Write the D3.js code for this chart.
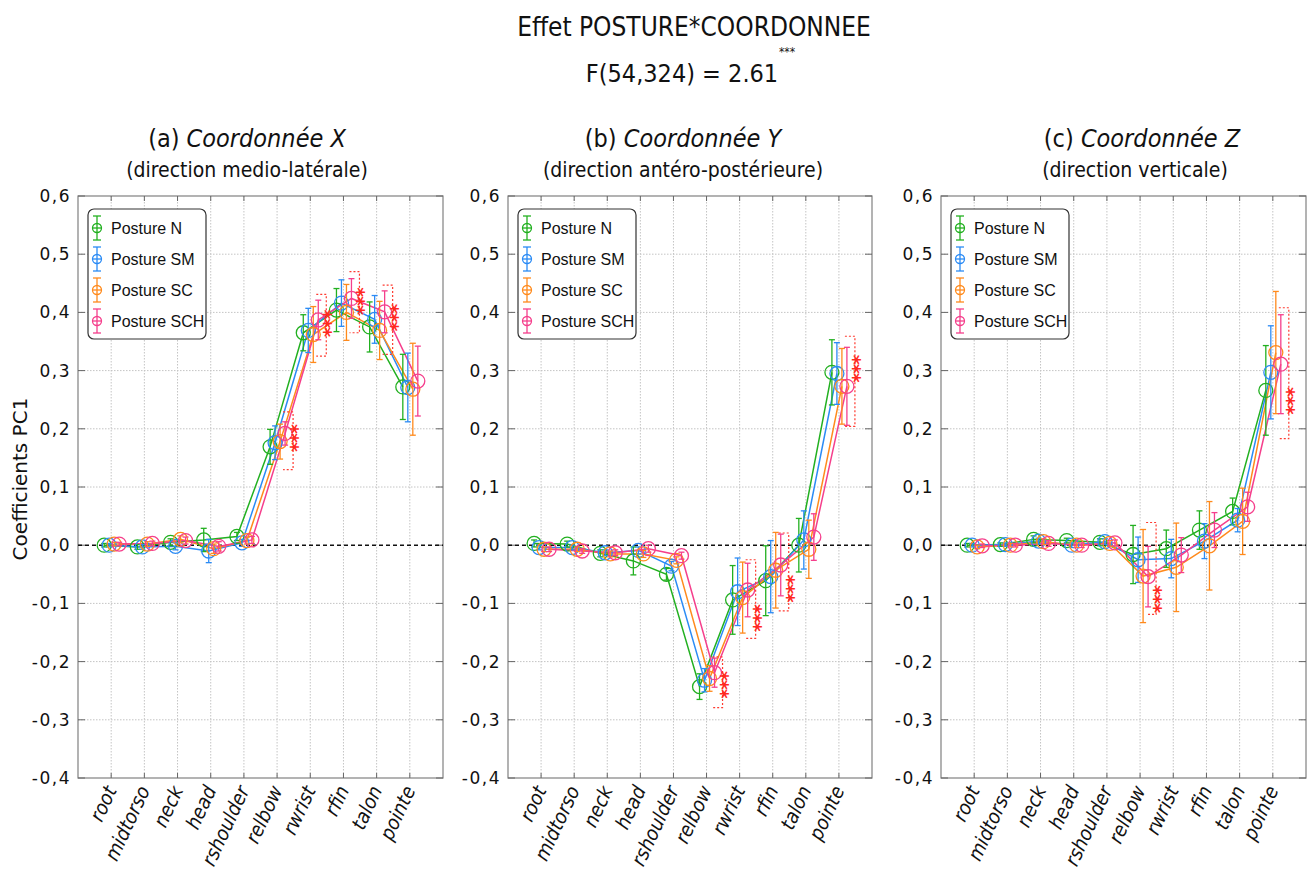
<!DOCTYPE html>
<html><head><meta charset="utf-8">
<script src="https://cdn.jsdelivr.net/npm/d3@7"></script>
<style>
body{margin:0;background:#fff;}
svg{display:block;}
</style></head>
<body>
<svg id="chart" width="1309" height="886"></svg>
<script>
// ---------- DATA ----------
const categories = ["root","midtorso","neck","head","rshoulder","relbow","rwrist","rfin","talon","pointe"];
const seriesNames = ["Posture N","Posture SM","Posture SC","Posture SCH"];
const seriesColors = ["#22b020","#2b8bf5","#ff8a1c","#f53f8c"];
const yTicks = [-0.4,-0.3,-0.2,-0.1,0,0.1,0.2,0.3,0.4,0.5,0.6];

// Panel (a) X
const xN   = [0.000,-0.003,0.005,0.009,0.015,0.169,0.365,0.404,0.375,0.272];
const xSM  = [0.000,-0.003,-0.002,-0.010,0.004,0.176,0.369,0.416,0.388,0.271];
const xSC  = [0.002,0.002,0.010,-0.006,0.008,0.178,0.362,0.400,0.369,0.268];
const xSCH = [0.002,0.003,0.008,-0.002,0.009,0.192,0.387,0.424,0.401,0.282];
const xNerr   = [0.003,0.004,0.006,0.020,0.007,0.030,0.031,0.037,0.043,0.056];
const xSMerr  = [0.003,0.004,0.006,0.020,0.006,0.029,0.038,0.040,0.041,0.059];
const xSCerr  = [0.003,0.004,0.006,0.008,0.006,0.030,0.048,0.048,0.050,0.079];
const xSCHerr = [0.003,0.004,0.006,0.008,0.006,0.020,0.034,0.034,0.036,0.060];

// Panel (b) Y
const yN   = [0.003,0.002,-0.014,-0.027,-0.050,-0.243,-0.094,-0.061,0.000,0.297];
const ySM  = [-0.004,-0.004,-0.013,-0.009,-0.036,-0.232,-0.080,-0.054,0.009,0.295];
const ySC  = [-0.007,-0.007,-0.015,-0.015,-0.026,-0.229,-0.090,-0.043,-0.007,0.273];
const ySCH = [-0.007,-0.010,-0.013,-0.006,-0.018,-0.219,-0.077,-0.034,0.014,0.273];
const yNerr   = [0.006,0.005,0.006,0.024,0.010,0.022,0.059,0.060,0.046,0.056];
const ySMerr  = [0.004,0.004,0.005,0.006,0.008,0.020,0.058,0.062,0.050,0.053];
const ySCerr  = [0.004,0.004,0.005,0.006,0.006,0.022,0.061,0.065,0.050,0.065];
const ySCHerr = [0.004,0.004,0.005,0.006,0.006,0.025,0.046,0.053,0.040,0.067];

// Panel (c) Z
const zN   = [0.000,0.001,0.010,0.008,0.005,-0.016,-0.006,0.026,0.058,0.266];
const zSM  = [0.000,0.001,0.007,0.000,0.006,-0.025,-0.023,0.007,0.043,0.297];
const zSC  = [-0.003,0.000,0.006,0.000,0.003,-0.053,-0.038,-0.001,0.041,0.331];
const zSCH = [-0.001,0.000,0.003,0.000,0.004,-0.054,-0.017,0.026,0.066,0.311];
const zNerr   = [0.003,0.003,0.006,0.004,0.006,0.050,0.032,0.033,0.023,0.077];
const zSMerr  = [0.003,0.003,0.005,0.004,0.005,0.039,0.033,0.030,0.020,0.080];
const zSCerr  = [0.003,0.003,0.005,0.004,0.005,0.080,0.076,0.076,0.057,0.105];
const zSCHerr = [0.003,0.003,0.005,0.004,0.005,0.052,0.030,0.030,0.025,0.085];

// Significance brackets: category, top, bottom, star centre
const sigX = [["relbow",0.229,0.130,0.185],["rwrist",0.431,0.325,0.382],["rfin",0.470,0.365,0.420],["talon",0.447,0.328,0.392]];
const sigY = [["relbow",-0.192,-0.279,-0.239],["rwrist",-0.025,-0.160,-0.124],["rfin",0.021,-0.113,-0.074],["pointe",0.359,0.204,0.304]];
const sigZ = [["relbow",0.039,-0.119,-0.092],["pointe",0.408,0.183,0.249]];

const panelTitles = [["(a)","Coordonnée X","(direction medio-latérale)"],
                     ["(b)","Coordonnée Y","(direction antéro-postérieure)"],
                     ["(c)","Coordonnée Z","(direction verticale)"]];

// ---------- LAYOUT ----------
const COND = "'DejaVu Sans Condensed','DejaVu Sans',sans-serif";
const svg = d3.select("#chart");
const yTop = 196, yBot = 778;
const panels = [
  {left:78, right:443, means:[xN,xSM,xSC,xSCH], errs:[xNerr,xSMerr,xSCerr,xSCHerr], sig:sigX, titleX:247, subX:247},
  {left:508, right:872, means:[yN,ySM,ySC,ySCH], errs:[yNerr,ySMerr,ySCerr,ySCHerr], sig:sigY, titleX:683, subX:683},
  {left:941, right:1306, means:[zN,zSM,zSC,zSCH], errs:[zNerr,zSMerr,zSCerr,zSCHerr], sig:sigZ, titleX:1142, subX:1135}
];
const y = d3.scaleLinear().domain([-0.4,0.6]).range([yBot, yTop]);
const fmt = v => d3.format(".1f")(v).replace("−","-").replace(".",",");
const dodge = [-7,-2,3,8];

// Main title
svg.append("text").attr("x",694).attr("y",36).attr("text-anchor","middle")
  .style("font-family",COND).style("font-stretch","condensed").style("font-size","26px").attr("fill","#111")
  .text("Effet POSTURE*COORDONNEE");
svg.append("text").attr("x",682).attr("y",82).attr("text-anchor","middle")
  .style("font-family",COND).style("font-stretch","condensed").style("font-size","25px").attr("fill","#111")
  .text("F(54,324) = 2.61");
svg.append("text").attr("x",787).attr("y",56).attr("text-anchor","middle")
  .style("font-family",COND).style("font-size","12px").attr("fill","#111").text("***");

// Y axis label
svg.append("text").attr("transform","translate(27,479) rotate(-90)").attr("text-anchor","middle")
  .style("font-family","'DejaVu Sans',sans-serif").style("font-size","20px").attr("fill","#111")
  .text("Coefficients PC1");

panels.forEach((p,pi) => {
  const g = svg.append("g");
  const x = d3.scaleLinear().domain([0, categories.length+1]).range([p.left, p.right]);
  const cx = i => x(i+1);

  // titles
  const t = g.append("text").attr("x",p.titleX).attr("y",147).attr("text-anchor","middle")
    .style("font-family",COND).style("font-stretch","condensed").style("font-size","25px").attr("fill","#111");
  t.append("tspan").text(panelTitles[pi][0]+" ");
  t.append("tspan").style("font-style","italic").text(panelTitles[pi][1]);
  g.append("text").attr("x",p.subX).attr("y",177).attr("text-anchor","middle")
    .style("font-family",COND).style("font-stretch","condensed").style("font-size","21px").attr("fill","#111")
    .text(panelTitles[pi][2]);

  // grid
  g.selectAll(".vg").data(categories).enter().append("line")
    .attr("x1",(d,i)=>cx(i)).attr("x2",(d,i)=>cx(i)).attr("y1",yTop).attr("y2",yBot)
    .attr("stroke","#c4c4c4").attr("stroke-width",1).attr("stroke-dasharray","1.5,1.5");
  g.selectAll(".hg").data(yTicks.filter(v=>v!==0 && v!==0.6 && v!==-0.4)).enter().append("line")
    .attr("x1",p.left).attr("x2",p.right).attr("y1",d=>y(d)).attr("y2",d=>y(d))
    .attr("stroke","#c4c4c4").attr("stroke-width",1).attr("stroke-dasharray","1.5,1.5");

  // frame
  g.append("rect").attr("x",p.left).attr("y",yTop).attr("width",p.right-p.left).attr("height",yBot-yTop)
    .attr("fill","none").attr("stroke","#808080").attr("stroke-width",1.2);
  yTicks.forEach(v=>{
    g.append("line").attr("x1",p.left).attr("x2",p.left+7).attr("y1",y(v)).attr("y2",y(v)).attr("stroke","#666");
    g.append("line").attr("x1",p.right-7).attr("x2",p.right).attr("y1",y(v)).attr("y2",y(v)).attr("stroke","#666");
  });
  categories.forEach((c,i)=>{
    g.append("line").attr("x1",cx(i)).attr("x2",cx(i)).attr("y1",yBot).attr("y2",yBot-5).attr("stroke","#666");
    g.append("line").attr("x1",cx(i)).attr("x2",cx(i)).attr("y1",yTop).attr("y2",yTop+5).attr("stroke","#666");
  });
  g.selectAll(".yl").data(yTicks).enter().append("text")
    .attr("x",p.left-7).attr("y",d=>y(d)+6).attr("text-anchor","end")
    .style("font-family","'DejaVu Sans',sans-serif").style("font-size","17px").style("letter-spacing","1.5px")
    .attr("fill","#111").text(fmt);
  g.selectAll(".xl").data(categories).enter().append("text")
    .attr("transform",(d,i)=>`translate(${cx(i)+6},${yBot+12}) rotate(-65)`)
    .attr("text-anchor","end")
    .style("font-family",COND).style("font-stretch","condensed").style("font-style","italic").style("font-size","20px")
    .attr("fill","#111").text(d=>d);

  g.append("line").attr("x1",p.left).attr("x2",p.right).attr("y1",y(0)).attr("y2",y(0))
    .attr("stroke","#111").attr("stroke-width",1.5).attr("stroke-dasharray","4,3");

  p.means.forEach((m,k)=>{
    const col = seriesColors[k];
    const pts = m.map((v,i)=>[cx(i)+dodge[k], y(v)]);
    g.append("path").attr("d",d3.line()(pts)).attr("fill","none").attr("stroke",col).attr("stroke-width",1.5);
  });
  p.means.forEach((m,k)=>{
    const col = seriesColors[k];
    const e = p.errs[k];
    const sg = g.append("g");
    m.forEach((v,i)=>{
      const px = cx(i)+dodge[k];
      sg.append("line").attr("x1",px).attr("x2",px).attr("y1",y(v-e[i])).attr("y2",y(v+e[i])).attr("stroke",col).attr("stroke-width",1.3);
      [v-e[i], v+e[i]].forEach(b=>sg.append("line").attr("x1",px-3).attr("x2",px+3).attr("y1",y(b)).attr("y2",y(b)).attr("stroke",col).attr("stroke-width",1.3));
      sg.append("circle").attr("cx",px).attr("cy",y(v)).attr("r",7).attr("fill","none").attr("stroke",col).attr("stroke-width",1.3);
    });
  });

  p.sig.forEach(s=>{
    const i = categories.indexOf(s[0]);
    const bx = cx(i)+16, sx = cx(i)+6;
    g.append("path").attr("d",`M${sx},${y(s[1])}H${bx}V${y(s[2])}H${sx}`)
      .attr("fill","none").attr("stroke","#ff3b30").attr("stroke-width",1.2).attr("stroke-dasharray","2,2");
    g.append("text").attr("transform",`translate(${bx-8},${y(s[3])}) rotate(90)`).attr("text-anchor","middle")
      .style("font-family","'DejaVu Sans',sans-serif").style("font-size","19px").style("font-weight","bold")
      .style("letter-spacing","-1px").attr("fill","#ff2a1f").text("***");
  });

  const lg = g.append("g").attr("transform",`translate(${p.left+10},209)`);
  lg.append("rect").attr("x",0).attr("y",0).attr("width",118).attr("height",130).attr("rx",6)
    .attr("fill","#fff").attr("stroke","#333").attr("stroke-width",1.2);
  seriesNames.forEach((n,k)=>{
    const cy = 19 + k*31, col = seriesColors[k];
    lg.append("line").attr("x1",9).attr("x2",9).attr("y1",cy-12).attr("y2",cy+12).attr("stroke",col).attr("stroke-width",1.3);
    [cy-12,cy+12].forEach(b=>lg.append("line").attr("x1",5).attr("x2",13).attr("y1",b).attr("y2",b).attr("stroke",col).attr("stroke-width",1.3));
    lg.append("line").attr("x1",4).attr("x2",14).attr("y1",cy).attr("y2",cy).attr("stroke",col).attr("stroke-width",1.3);
    lg.append("circle").attr("cx",9).attr("cy",cy).attr("r",4.5).attr("fill","none").attr("stroke",col).attr("stroke-width",1.3);
    lg.append("text").attr("x",23).attr("y",cy+5.5).style("font-family","'Liberation Sans',Arial,sans-serif")
      .style("font-size","16px").attr("fill","#111").text(n);
  });
});
</script>
</body></html>
